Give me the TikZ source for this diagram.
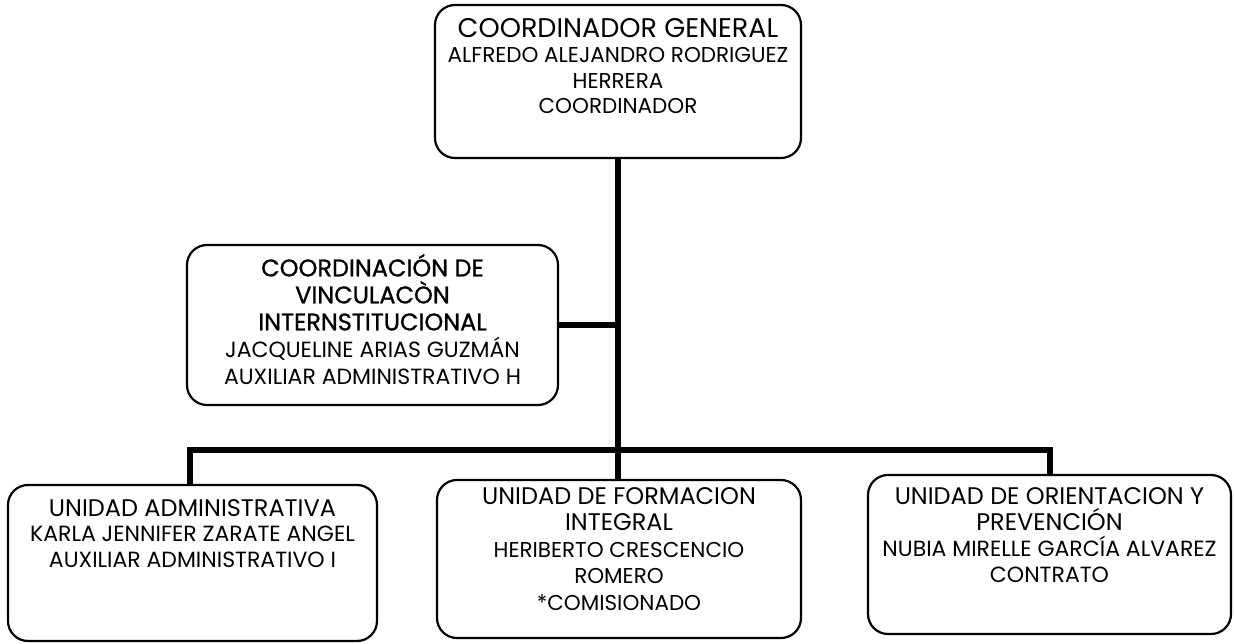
\documentclass[tikz,border=0pt]{standalone}
\usepackage{fontspec}
\setmainfont{Poppins}
\newfontfamily\medio[FakeBold=1]{Poppins}
\usetikzlibrary{positioning}
\tikzset{
  caja/.style={draw, line width=2.2pt, rounded corners=20pt, inner sep=0pt},
  texto/.style={align=center, inner sep=0pt, font=\fontsize{21.5}{25.5}\selectfont},
  linea/.style={line width=6.5pt}
}
\newcommand{\titulo}[1]{{\fontsize{24}{26}\selectfont #1}}
\begin{document}
\begin{tikzpicture}[x=1pt, y=-1pt]
    \useasboundingbox (0,0) rectangle (1234,644);
    % cajas
    \node[caja, minimum width=366pt, minimum height=153pt] (coord) at (618,81.5) {};
    \node[caja, minimum width=371pt, minimum height=160pt] (vinc) at (372.5,325) {};
    \node[caja, minimum width=369pt, minimum height=156pt] (admin) at (192.5,563) {};
    \node[caja, minimum width=364pt, minimum height=158pt] (form) at (619,559) {};
    \node[caja, minimum width=363pt, minimum height=159pt] (orient) at (1049.5,554.5) {};
    % textos
    \node[texto, below=14pt of coord.north] (tcoord) {{\fontsize{27}{26}\selectfont COORDINADOR GENERAL}\\ALFREDO ALEJANDRO RODRIGUEZ\\HERRERA\\COORDINADOR};
    \node[texto, font=\fontsize{22}{27}\selectfont, below=10pt of vinc.north] (tvinc) {\titulo{\medio COORDINACIÓN DE}\\\titulo{\medio VINCULACÒN}\\\titulo{\medio INTERNSTITUCIONAL}\\JACQUELINE ARIAS GUZMÁN\\AUXILIAR ADMINISTRATIVO H};
    \node[texto, font=\fontsize{22}{25.5}\selectfont, below=15pt of admin.north] (tadmin) {\titulo{UNIDAD ADMINISTRATIVA}\\KARLA JENNIFER ZARATE ANGEL\\AUXILIAR ADMINISTRATIVO I};
    \node[texto, font=\fontsize{21.5}{26.5}\selectfont, below=8pt of form.north] (tform) {\titulo{UNIDAD DE FORMACION}\\\titulo{INTEGRAL}\\HERIBERTO CRESCENCIO\\ROMERO\\*COMISIONADO};
    \node[texto, font=\fontsize{22}{26}\selectfont, below=13pt of orient.north] (torient) {\titulo{UNIDAD DE ORIENTACION Y}\\\titulo{PREVENCIÓN}\\NUBIA MIRELLE GARCÍA ALVAREZ\\CONTRATO};
    % lineas
    \coordinate (busizq) at (190,450);
    \coordinate (busder) at (1050,450);
    \draw[linea] (coord.south) -- (coord.south |- form.north);
    \draw[linea] (vinc.east) -- (vinc.east -| coord.south);
    \draw[linea] (busizq |- admin.north) -- (busizq) -- (busder) -- (busder |- orient.north);
\end{tikzpicture}
\end{document}
